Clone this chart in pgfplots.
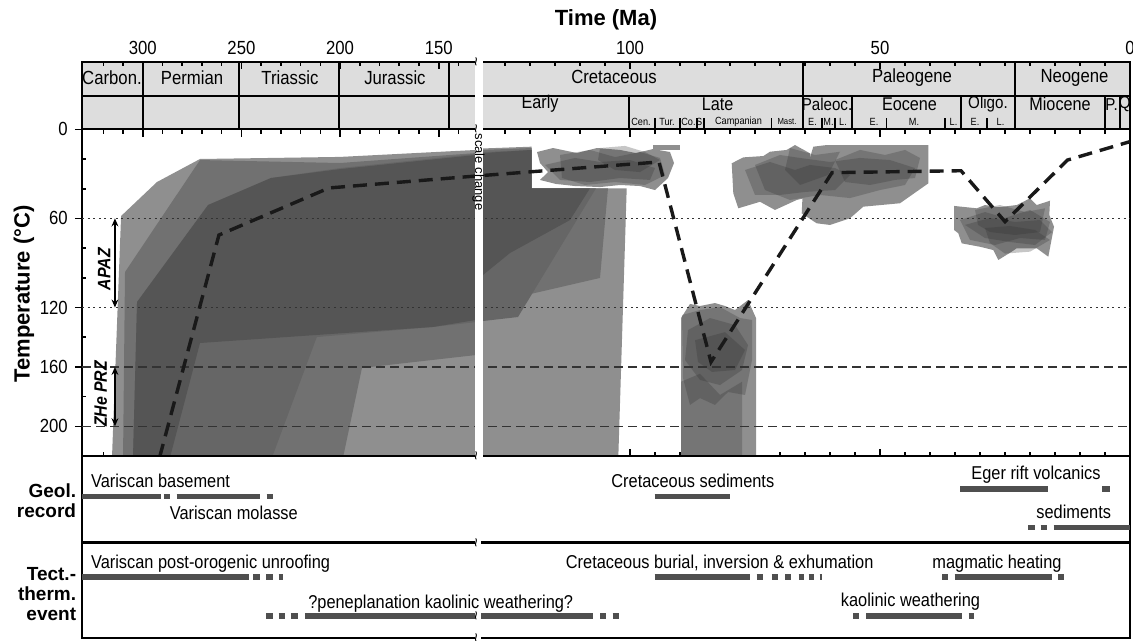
\documentclass[border=0pt]{standalone}
\usepackage{pgfplots}
\pgfplotsset{compat=1.18}
\usetikzlibrary{arrows.meta}
\usepackage{fontspec}
\setmainfont{Liberation Sans}[FakeStretch=0.88]
\newfontfamily\plainsans{Liberation Sans}
\definecolor{tsgrey}{HTML}{DDDDDD}
\definecolor{polyA}{HTML}{8F8F8F}
\definecolor{polyB}{HTML}{717171}
\definecolor{polyC}{HTML}{666666}
\definecolor{polyD}{HTML}{555555}
\definecolor{barc}{HTML}{4F4F4F}
\definecolor{refl}{HTML}{333333}
\pgfplotsset{
  timeaxis/.style={
    scale only axis, width=524pt,
    x coord trafo/.code={\pgfmathparse{477-1.973*max(##1-130.6,0)+5*max(130.6-##1,0)}},
    xmin=330.8, xmax=0, enlargelimits=false,
    axis line style={line width=1.1pt},
    every tick/.style={black, line width=0.8pt},
    major tick length=3.6pt, minor tick length=2.2pt,
    tick label style={font=\fontsize{9.5}{10}\selectfont},
  },
  outerblob/.style={fill=polyA, draw=none},
  innerblob/.style={fill=black!80, fill opacity=0.28, draw=none},
  bar/.style={barc, line width=2.7pt, unbounded coords=jump},
}
\begin{document}
\begin{tikzpicture}
\useasboundingbox (0,0) rectangle (566.5pt,-320.5pt);
% ---------------- timescale ----------------
\begin{axis}[timeaxis, at={(41pt,-31pt)}, anchor=north west, height=33.65pt,
  ymin=-45.3, ymax=0, y dir=reverse, ytick=\empty,
  axis background/.style={fill=tsgrey},
  xtick={300,250,200,150,100,50,0}, xticklabels={300,250,200,150,100,50,0},
  minor xtick={320,310,290,280,270,260,240,230,220,210,190,180,170,160,140,125,120,115,110,105,95,90,85,80,75,70,65,60,55,45,40,35,30,25,20,15,10,5},
  xtick pos=right, xticklabel pos=right, tick align=inside, clip=false]
\draw[line width=1pt] (axis cs:330.8,-22.4) -- (axis cs:0,-22.4);
\pgfplotsinvokeforeach{300,251,200.5,145,65.5,23.1}{\draw[line width=1pt] (axis cs:#1,-45.3) -- (axis cs:#1,0);}
\pgfplotsinvokeforeach{100.2,55.6,33.8,5,2.1}{\draw[line width=1pt] (axis cs:#1,-22.4) -- (axis cs:#1,0);}
\pgfplotsinvokeforeach{95,90,86.6,85.2,71.7,61.6,59,48.7,37,28.6}{\draw[line width=0.6pt] (axis cs:#1,-7.5) -- (axis cs:#1,0);}
\begin{scope}[font=\fontsize{9.5}{10}\selectfont]
\node at (axis cs:315.6,-34.9) {Carbon.};
\node at (axis cs:275.0,-34.9) {Permian};
\node at (axis cs:225.4,-34.9) {Triassic};
\node at (axis cs:172.2,-34.9) {Jurassic};
\node at (axis cs:103.2,-34.9) {Cretaceous};
\node at (axis cs:43.6,-34.9) {Paleogene};
\node at (axis cs:11.1,-34.9) {Neogene};
\end{scope}
\begin{scope}[font=\fontsize{9.2}{9.5}\selectfont, inner sep=0pt]
\node at (axis cs:118.0,-16.9) {Early};
\node at (axis cs:82.5,-16.9) {Late};
\node at (axis cs:44.1,-16.9) {Eocene};
\node at (axis cs:14.0,-16.9) {Miocene};
\end{scope}
\begin{scope}[font=\fontsize{8.6}{9}\selectfont, inner sep=0pt]
\node at (axis cs:60.6,-16.9) {Paleoc.};
\node at (axis cs:28.4,-16.9) {Oligo.};
\node at (axis cs:3.7,-16.9) {P.};
\node at (axis cs:1.05,-16.9) {Q};
\end{scope}
\begin{scope}[font=\fontsize{5.2}{5.5}\selectfont, inner sep=0pt]
\node at (axis cs:97.8,-5.2) {Cen.};
\node at (axis cs:92.6,-5.2) {Tur.};
\node at (axis cs:88.3,-5.2) {Co.};
\node at (axis cs:85.9,-5.2) {S.};
\node at (axis cs:78.3,-5.2) {Campanian};
\node at (axis cs:68.6,-5.2) {\fontsize{4.4}{5}\selectfont Mast.};
\node at (axis cs:63.5,-5.2) {E.};
\node at (axis cs:60.3,-5.2) {M.};
\node at (axis cs:57.4,-5.2) {L.};
\node at (axis cs:51.2,-5.2) {E.};
\node at (axis cs:43.2,-5.2) {M.};
\node at (axis cs:35.3,-5.2) {L.};
\node at (axis cs:31.0,-5.2) {E.};
\node at (axis cs:25.9,-5.2) {L.};
\end{scope}
\end{axis}
% ---------------- main panel ----------------
\begin{axis}[timeaxis, at={(41pt,-64.65pt)}, anchor=north west, height=163.35pt,
  ymin=0, ymax=220, y dir=reverse,
  xtick={300,250,200,150,100,50,0}, xticklabels={},
  minor xtick={320,310,290,280,270,260,240,230,220,210,190,180,170,160,140,125,120,115,110,105,95,90,85,80,75,70,65,60,55,45,40,35,30,25,20,15,10,5},
  tick align=inside, xtick pos=both,
  ytick={0,60,120,160,200}, yticklabels={0,60,120,160,200}, ytick pos=left, ytick align=outside,
  extra y ticks={20,40,80,100,140,180,220}, extra y tick labels={},
  extra y tick style={ytick align=inside, major tick length=2.2pt}]
% envelopes
\addplot[fill=polyA, draw=none] coordinates {(315.6,221) (311.0,58.4) (292.8,35.5) (271.0,20.0) (200.0,18.6) (131.1,13.9) (129.4,12.9) (119.66,11.7) (119.66,39.7) (100.66,39.7) (102.34,221)} --cycle;
\addplot[fill=polyB, draw=none] coordinates {(310.0,221) (309.0,96.1) (271.0,20.7) (200.0,22.7) (131.1,16.0) (129.4,13.9) (119.66,12.6) (119.66,39.7) (104.4,39.7) (106,100.1) (129.4,118.3) (131.1,152.0) (188.9,160.7) (198.5,221)} --cycle;
\addplot[fill=polyC, draw=none] coordinates {(304.95,221) (302.9,116.3) (266.9,51.0) (235.0,32.8) (200.0,26.1) (131.1,16.6) (129.4,15.3) (119.66,13.9) (119.66,39.7) (106.8,39.7) (122.4,126.4) (129.4,129.1) (131.1,129.8) (152.9,133.1) (211.8,139.9) (234.5,221)} --cycle;
\addplot[fill=polyD, draw=none] coordinates {(304.95,221) (302.9,116.3) (266.9,51.0) (235.0,32.8) (200.0,26.8) (131.1,17.3) (129.4,16.0) (119.66,13.9) (119.66,39.7) (108,39.7) (112,61.1) (124,83.3) (129.4,98.1) (131.1,128.4) (152.9,133.1) (271.0,143.9) (286.2,221)} --cycle;
% cluster 1 (Early Cretaceous)
\addplot[outerblob] coordinates {(118.6,15.3) (115.4,12.6) (110.6,16.0) (106.6,12.6) (102,13.9) (98.8,16.0) (95.4,13.3) (92,15.3) (91.2,22.7) (92.4,32.8) (95,40.9) (98,38.2) (102,37.5) (106,38.9) (111,38.2) (114.8,36.8) (118,34.1) (116.4,28.8) (118,22.7)} --cycle;
\addplot[outerblob] coordinates {(95.4,10.6) (90,10.6) (90,13.9) (95.4,13.9)} --cycle;
\addplot[innerblob] coordinates {(114,17.3) (108,13.9) (103,18.7) (98,15.3) (94,19.3) (93,30.8) (97,37.5) (103,35.5) (109,37.5) (113.6,32.8)} --cycle;
\addplot[innerblob] coordinates {(117,24.0) (111,19.3) (106,22.0) (100,20.7) (95,26.1) (96,34.1) (102,32.8) (108,35.5) (114,34.1)} --cycle;
\addplot[innerblob] coordinates {(106,12.6) (101,11.2) (97,15.3) (94,20.7) (98,28.8) (103,27.4) (106.4,20.7)} --cycle;
% cluster 2 (Late Cretaceous)
\addplot[outerblob] coordinates {(89.8,127.1) (88,117.6) (86,119.0) (83,117.0) (81,119.0) (79,121.7) (76.4,115.0) (74.8,127.1) (74.8,222) (89.8,222)} --cycle;
\addplot[innerblob] coordinates {(89.8,170) (86,164.6) (82,178.9) (77.6,170) (77.6,222) (89.8,222)} --cycle;
\addplot[innerblob] coordinates {(89.6,125.1) (86,121.7) (82,119.7) (78,127.1) (75.6,128.4) (75.6,155.4) (77,178.9) (80.4,176.9) (83,185.6) (86,181) (88,185.6) (89.4,167.5)} --cycle;
\addplot[innerblob] coordinates {(88.4,135.2) (84,127.1) (79,131.8) (76.4,145.3) (77.6,162.1) (82,172.2) (86,168.8) (89,155.4)} --cycle;
\addplot[innerblob] coordinates {(87,142) (81,136.6) (77,148.6) (79,162.1) (83.6,163.4) (86.4,156.7)} --cycle;
% cluster 3 (Campanian - Eocene)
\addplot[outerblob] coordinates {(79.66,22.9) (77.34,18.9) (73.34,18.0) (72,15.1) (68.66,13.9) (67,10.6) (64,16.2) (64,45.4) (66.66,47.6) (71,54.3) (74,48.8) (78.34,53.2) (79.34,43.1)} --cycle;
\addplot[outerblob] coordinates {(63.34,11.7) (60.66,10.6) (54,10.6) (40.34,10.6) (40.34,36.4) (46,49.8) (53.34,52.1) (56,59.9) (60,64.4) (62.66,63.3) (65.66,56.6) (65.34,34.1)} --cycle;
\addplot[innerblob] coordinates {(75,24.0) (70,17.3) (66,19.3) (60,22.0) (54,19.3) (48,20.7) (43,26.1) (45,37.5) (50,40.9) (56,46.3) (62,44.2) (68,47.6) (73,40.9)} --cycle;
\addplot[innerblob] coordinates {(77,27.4) (72,22.0) (67,27.4) (64,24.0) (59,26.1) (56,30.8) (59,40.9) (65,42.2) (70,44.2) (75,44.2)} --cycle;
\addplot[innerblob] coordinates {(59,20.7) (54,13.9) (49,17.3) (45,13.9) (42,19.3) (43,32.8) (47,34.1) (52,37.5) (57,35.5)} --cycle;
\addplot[innerblob] coordinates {(68,12.6) (63,17.3) (58,15.1) (60.4,30.8) (66,37.5) (69,27.4)} --cycle;
% cluster 4 (Oligocene)
\addplot[outerblob] coordinates {(35.2,51.6) (30.66,53.2) (29,51.0) (26.34,52.5) (22.66,51.0) (20,46.5) (18.66,51.0) (16,48.1) (16.14,57.7) (15.2,65.6) (16.34,85.8) (18.66,80.1) (22.66,80.1) (23.66,82.4) (26.34,88.0) (27.34,81.3) (30,79.1) (33.66,76.8) (34.34,70.0) (35.2,67.8)} --cycle;
\addplot[innerblob] coordinates {(34,61.1) (29,55.7) (25,59.7) (20,54.3) (16,62.4) (17,74.5) (22,73.2) (27,77.9) (32,74.5)} --cycle;
\addplot[innerblob] coordinates {(33,64.4) (28,59.7) (23,62.4) (18,61.1) (15.6,69.2) (19,77.9) (24,75.9) (29,73.2)} --cycle;
\addplot[innerblob] coordinates {(31,54.3) (26,51.0) (21,55.7) (17,53.2) (18,69.2) (23,71.2) (28,69.2) (30.4,64.4)} --cycle;
\addplot[innerblob] coordinates {(29,66.5) (24,65.1) (19,67.8) (16,74.5) (20,82.4) (25,83.7) (28,76.6)} --cycle;
% reference lines
\addplot[refl, line width=0.6pt, dash pattern=on 1pt off 1.8pt] coordinates {(330.8,60) (0,60)};
\addplot[refl, line width=0.6pt, dash pattern=on 1pt off 1.8pt] coordinates {(330.8,120) (0,120)};
\addplot[refl, line width=0.7pt, dash pattern=on 4.5pt off 2.5pt] coordinates {(330.8,160) (0,160)};
\addplot[refl, line width=0.7pt, dash pattern=on 4.5pt off 2.5pt] coordinates {(330.8,200) (0,200)};
% PAZ / PRZ
\draw[{Stealth[length=4pt,width=3.4pt]}-{Stealth[length=4pt,width=3.4pt]}, line width=0.9pt] (axis cs:314.1,60) -- (axis cs:314.1,120);
\draw[{Stealth[length=4pt,width=3.4pt]}-{Stealth[length=4pt,width=3.4pt]}, line width=0.9pt] (axis cs:314.1,160) -- (axis cs:314.1,200);
\node[rotate=90, font=\bfseries\itshape\fontsize{9}{10}\selectfont] at (axis cs:319.55,94.2) {APAZ};
\node[rotate=90, font=\bfseries\itshape\fontsize{9}{10}\selectfont] at (axis cs:321.3,178.2) {ZHe PRZ};
% t-T path
\addplot[black!90, line width=1.7pt, dash pattern=on 7pt off 4pt] coordinates {(291.5,221) (261.4,71.2) (205.6,39.5) (130.6,31.4) (94.2,22.0) (83.8,156.7) (59.6,29.2) (33.8,27.9) (25.0,62.2) (12.5,20.7) (0,8.3)};
\end{axis}
% ---------------- geological record ----------------
\begin{axis}[timeaxis, at={(41pt,-228pt)}, anchor=north west, height=43pt,
  ymin=0, ymax=86, y dir=reverse, xtick=\empty, ytick=\empty, clip=false]
\addplot[bar] coordinates {(330.8,40.2) (290.9,40.2) (290,nan) (289.3,40.2) (286.0,40.2) (285,nan) (282.8,40.2) (240.8,40.2) (239,nan) (237.2,40.2) (234.0,40.2)};
\addplot[bar] coordinates {(95.1,40.2) (80.0,40.2)};
\addplot[bar] coordinates {(34.0,33) (16.4,33) (10,nan) (5.6,33) (4.0,33)};
\addplot[bar] coordinates {(20.4,71.7) (19.1,71.7) (18.5,nan) (17.9,71.7) (16.6,71.7) (16,nan) (15.3,71.7) (0,71.7)};
\begin{scope}[font=\fontsize{9.3}{10}\selectfont]
\node[anchor=base west, inner sep=0pt] at (axis cs:326.4,31.3) {Variscan basement};
\node[anchor=base west, inner sep=0pt] at (axis cs:286.5,63) {Variscan molasse};
\node[anchor=base west, inner sep=0pt] at (axis cs:103.8,31.3) {Cretaceous sediments};
\node[anchor=base west, inner sep=0pt] at (axis cs:31.8,23) {Eger rift volcanics};
\node[anchor=base west, inner sep=0pt] at (axis cs:18.8,62.3) {sediments};
\end{scope}
\end{axis}
% ---------------- tectono-thermal events ----------------
\begin{axis}[timeaxis, at={(41pt,-271.5pt)}, anchor=north west, height=47.5pt,
  ymin=0, ymax=95, y dir=reverse, xtick=\empty, ytick=\empty, clip=false]
\addplot[bar] coordinates {(330.8,34) (246.3,34) (245,nan) (244.0,34) (240.5,34) (239,nan) (237.3,34) (234.2,34) (233,nan) (231.2,34) (228.8,34)};
\addplot[bar] coordinates {(237.5,72.8) (234.2,72.8) (233,nan) (231.2,72.8) (227.9,72.8) (226,nan) (224.9,72.8) (221.5,72.8) (220,nan) (217.8,72.8) (107.4,72.8) (106.5,nan) (105.96,72.8) (104.86,72.8) (104.2,nan) (103.5,72.8) (102.3,72.8)};
\addplot[bar] coordinates {(95.1,34) (76.1,34) (75.5,nan) (74.7,34) (73.4,34) (72.5,nan) (71.7,34) (70.5,34) (69.5,nan) (69.0,34) (67.8,34) (67,nan) (66.3,34) (65.2,34) (64.8,nan) (64.3,34) (63.2,34) (62.5,nan) (62.1,34) (61.6,34)};
\addplot[bar] coordinates {(37.6,34) (36.5,34) (36,nan) (35.1,34) (15.7,34) (15,nan) (14.4,34) (13.3,34)};
\addplot[bar] coordinates {(55.4,72.8) (54.2,72.8) (53.5,nan) (52.8,72.8) (33.6,72.8) (33,nan) (32.3,72.8) (31.2,72.8)};
\begin{scope}[font=\fontsize{9.3}{10}\selectfont]
\node[anchor=base west, inner sep=0pt] at (axis cs:326.4,25.3) {Variscan post-orogenic unroofing};
\node[anchor=base west, inner sep=0pt] at (axis cs:216.3,65.3) {?peneplanation kaolinic weathering?};
\node[anchor=base west, inner sep=0pt] at (axis cs:112.9,25.3) {Cretaceous burial, inversion \& exhumation};
\node[anchor=base west, inner sep=0pt] at (axis cs:39.6,25.3) {magmatic heating};
\node[anchor=base west, inner sep=0pt] at (axis cs:57.9,63.7) {kaolinic weathering};
\end{scope}
\end{axis}
% ---------------- scale break ----------------
\fill[white] (237.25pt,-29pt) rectangle (241.25pt,-228.9pt);
\foreach \yy/\hh in {-228/1.0,-271.5/1.0,-319/1.0,-307.9/1.7}
  \fill[white] (237.6pt,\yy pt+\hh pt) rectangle (240.6pt,\yy pt-\hh pt);
\begin{scope}[font=\plainsans\fontsize{8}{8}\selectfont]
\foreach \yy in {-31,-64.65,-228,-271.5,-319,-307.9}
  \node[rotate=90, inner sep=0pt] at (239.1pt,\yy pt) {\textasciitilde};
\end{scope}
\node[rotate=-90, font=\plainsans\fontsize{6.5}{7}\selectfont] at (239.25pt,-86pt) {scale change};
% ---------------- titles ----------------
\node[font=\plainsans\bfseries\fontsize{11}{13}\selectfont] at (303pt,-10pt) {Time (Ma)};
\node[rotate=90, font=\plainsans\bfseries\fontsize{11}{13}\selectfont] at (12pt,-147pt) {Temperature (°C)};
\begin{scope}[font=\plainsans\bfseries\fontsize{9.5}{10}\selectfont]
\node[anchor=base east, inner sep=0pt] at (38.25pt,-248.65pt) {Geol.};
\node[anchor=base east, inner sep=0pt] at (38.25pt,-258.65pt) {record};
\node[anchor=base east, inner sep=0pt] at (38.25pt,-290pt) {Tect.-};
\node[anchor=base east, inner sep=0pt] at (38.25pt,-300.35pt) {therm.};
\node[anchor=base east, inner sep=0pt] at (38.25pt,-310pt) {event};
\end{scope}
\end{tikzpicture}
\end{document}
